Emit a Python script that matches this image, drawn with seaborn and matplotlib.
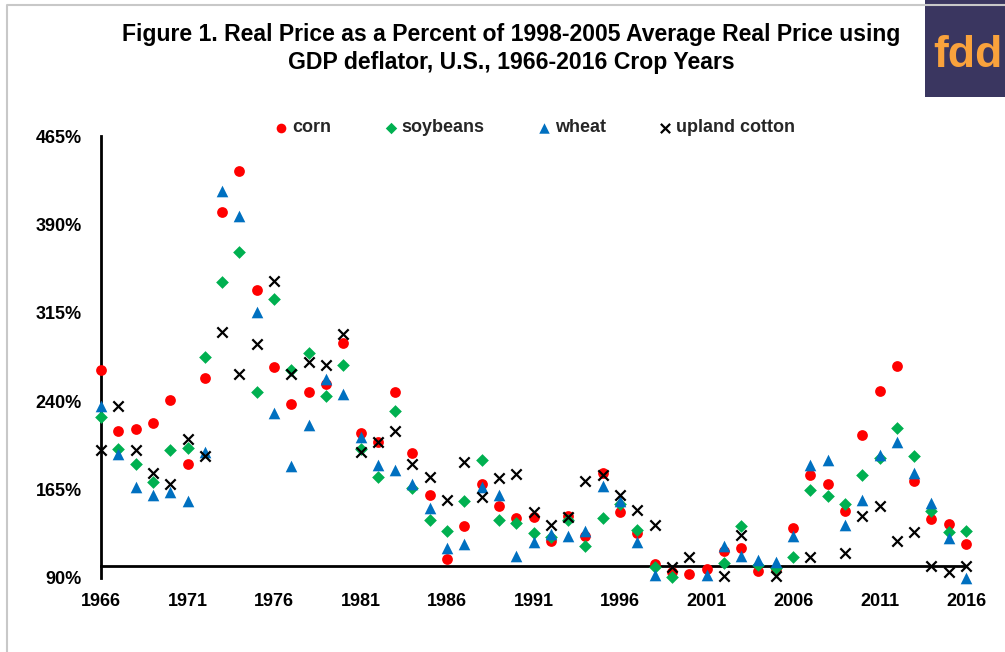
import numpy as np
import pandas as pd
import seaborn as sns
import matplotlib.pyplot as plt
from matplotlib.lines import Line2D
from matplotlib.ticker import FuncFormatter

nan = np.nan
years = list(range(1966, 2017))

# percent of 1998-2005 average real price (values under 90% are off the chart)
corn = [266.6, 214.6, 216.3, 221.9, 241.2, 186.3, 259.6, 400.5, 435.0, 334.4,
        268.9, 237.5, 247.7, 254.7, 289.7, 213.4, 205.0, 247.7, 196.0, 160.6,
        106.1, 133.7, 169.7, 151.3, 140.9, 141.4, 121.4, 142.8, 125.9, 179.0,
        146.0, 128.2, 101.9, 94.8, 93.4, 97.6, 112.6, 115.4, 95.6, 98.0,
        132.6, 177.8, 169.4, 146.5, 211.5, 248.8, 270.2, 171.9, 140.3, 136.0,
        118.8]
soybeans = [226.5, 199.6, 186.6, 171.4, 198.5, 200.2, 277.4, 341.5, 366.6, 248.2,
            326.8, 266.6, 280.8, 244.8, 271.0, 199.4, 175.6, 231.8, 166.3, 139.4,
            129.5, 155.0, 189.7, 139.4, 136.6, 128.2, 124.8, 139.4, 117.4, 140.9,
            152.7, 131.0, 99.0, 90.8, nan, nan, 102.7, 133.7, 101.3, 98.5,
            107.8, 164.3, 159.2, 152.4, 177.6, 191.7, 217.2, 193.1, 146.5, 129.0,
            129.5]
wheat = [236.3, 195.4, 167.0, 160.4, 162.6, 155.3, 196.5, 418.4, 397.0, 315.8,
         230.4, 184.6, 220.0, 259.0, 246.0, 210.0, 186.0, 181.8, 170.0, 149.3,
         115.4, 119.1, 166.8, 160.6, 108.9, 120.5, 127.3, 125.3, 129.5, 167.7,
         155.5, 120.2, 92.8, nan, nan, 92.8, 116.8, 108.9, 105.5, 103.2,
         125.3, 185.5, 190.3, 135.2, 156.4, 194.5, 205.8, 179.5, 153.6, 123.9,
         90.3]
cotton = [198.2, 236.3, 198.2, 179.0, 169.7, 207.8, 193.1, 298.8, 263.2, 288.6,
          341.8, 263.0, 273.6, 271.0, 297.0, 197.3, 205.0, 215.1, 186.9, 175.6,
          155.8, 188.0, 158.3, 174.8, 178.4, 146.2, 134.6, 141.7, 172.5, 177.6,
          160.0, 147.3, 134.6, 99.0, 107.5, nan, 92.0, 126.5, nan, 91.4,
          nan, 107.5, nan, 111.2, 142.2, 150.7, 121.6, 128.7, 99.8, 94.8,
          99.8]

series = ['corn', 'soybeans', 'wheat', 'upland cotton']
colors = ['#ff0000', '#00b050', '#0070c0', '#000000']
markers = ['o', 'D', '^', 'x']
sizes = [60, 42, 70, 55]

df = pd.DataFrame({'year': years, 'corn': corn, 'soybeans': soybeans,
                   'wheat': wheat, 'upland cotton': cotton})

sns.set_style('white')
plt.rcParams['font.family'] = ['Liberation Sans', 'DejaVu Sans']
plt.rcParams['font.weight'] = 'bold'

fig = plt.figure(figsize=(10.05, 6.52), dpi=100)
ax = fig.add_axes([0.1005, 0.1135, 0.8607, 0.6779])

for name, c, m, s in zip(series, colors, markers, sizes):
    if m == 'x':
        sns.scatterplot(x=df['year'], y=df[name], ax=ax, color=c, marker=m, s=s,
                        linewidth=1.6, label=name, clip_on=False, zorder=5)
    else:
        sns.scatterplot(x=df['year'], y=df[name], ax=ax, color=c, marker=m, s=s,
                        linewidth=0, label=name, clip_on=False, zorder=4)

ax.set_xlim(1966, 2016)
ax.set_ylim(90, 465)
ax.set_xticks(range(1966, 2017, 5))
ax.set_yticks(range(90, 466, 75))
ax.yaxis.set_major_formatter(FuncFormatter(lambda v, p: f'{v:.0f}%'))
ax.set_xlabel('')
ax.set_ylabel('')

for side in ['top', 'right']:
    ax.spines[side].set_visible(False)
ax.spines['bottom'].set_position(('data', 100))
for side in ['left', 'bottom']:
    ax.spines[side].set_linewidth(2)
    ax.spines[side].set_color('black')

ax.tick_params(axis='both', direction='inout', length=8, width=1.8,
               labelsize=13, colors='black')
ax.tick_params(axis='y', pad=9.7)
ax.tick_params(axis='x', pad=15.4)
ax.grid(False)

ax.get_legend().remove()
handles, labels = ax.get_legend_handles_labels()
fig.legend(handles, labels, loc='center', bbox_to_anchor=(0.531, 0.804),
           ncol=4, frameon=False, fontsize=13, handletextpad=0.1,
           handlelength=1.0, columnspacing=2.8, markerscale=0.9)

fig.text(0.5085, 0.9376, 'Figure 1. Real Price as a Percent of 1998-2005 Average Real Price using',
         ha='center', va='baseline', fontsize=16.6, fontweight='bold', color='black')
fig.text(0.5085, 0.8937, 'GDP deflator, U.S., 1966-2016 Crop Years',
         ha='center', va='baseline', fontsize=16.6, fontweight='bold', color='black')

# chart frame
fig.add_artist(Line2D([7 / 1005, 7 / 1005, 1], [0, 1 - 5 / 652, 1 - 5 / 652],
                      transform=fig.transFigure, color='#c8c8c8', lw=1.5))

# logo
logo = fig.add_axes([0.9204, 0.8512, 0.0796, 0.1488])
logo.set_facecolor('#3a3660')
logo.set_xticks([])
logo.set_yticks([])
for sp in logo.spines.values():
    sp.set_visible(False)
logo.text(0.1, 0.31, 'fdd', color='#f9a23c', fontsize=32, fontweight='bold',
          va='baseline', ha='left', transform=logo.transAxes, clip_on=True)

fig.savefig('out.png', dpi=100)
